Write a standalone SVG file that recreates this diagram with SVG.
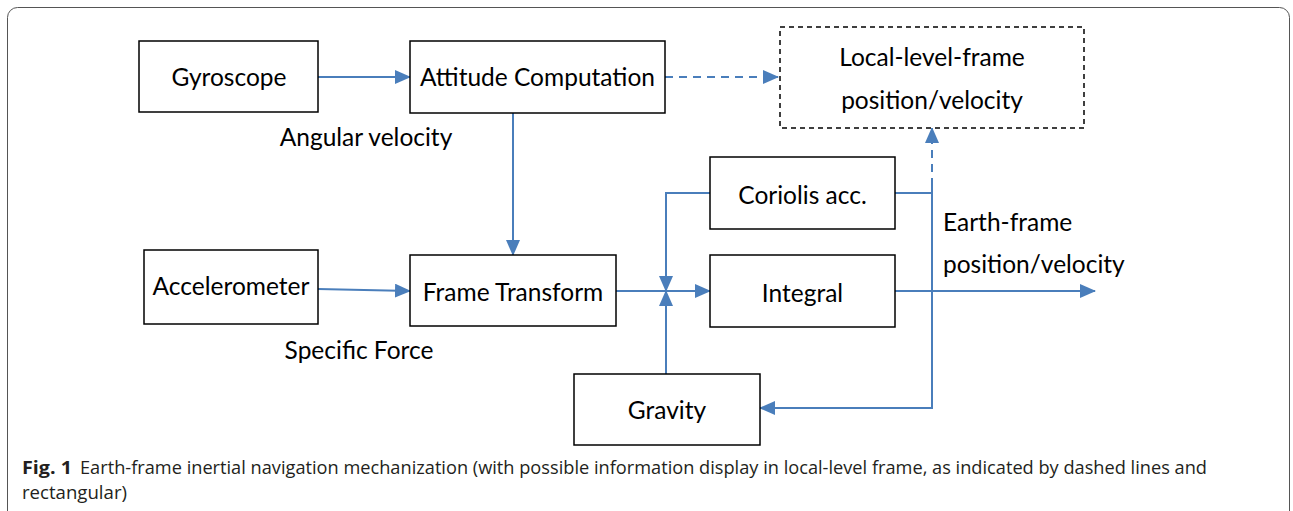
<svg xmlns="http://www.w3.org/2000/svg" width="1293" height="511" viewBox="0 0 1293 511">
<style>
.box{fill:#fff;stroke:#000;stroke-width:1.5}
.dbox{fill:#fff;stroke:#000;stroke-width:1.5;stroke-dasharray:5 4}
.t{font-family:Lato,"Open Sans",sans-serif;font-size:24.5px;fill:#000}
.c{stroke:#4a7ebb;stroke-width:2;fill:none}
.d{stroke-dasharray:8 6}
.cap{font-family:"Open Sans","Noto Sans",sans-serif;font-size:18px;fill:#231f20}
</style>
<defs>
<marker id="ah" markerUnits="userSpaceOnUse" markerWidth="16" markerHeight="14" refX="15" refY="7" orient="auto">
<path d="M0,0 L16,7 L0,14 Z" fill="#4a7ebb"/>
</marker>
</defs>
<rect x="7.5" y="7.5" width="1282" height="520" rx="10" fill="none" stroke="#555" stroke-width="1"/>
<g id="connectors">
<path class="c" d="M318,77 H410" marker-end="url(#ah)"/>
<path class="c d" d="M665,77 H778" marker-end="url(#ah)"/>
<path class="c" d="M513,113 V255" marker-end="url(#ah)"/>
<path class="c" d="M318,289 L410,291" marker-end="url(#ah)"/>
<path class="c" d="M616,291 H710" marker-end="url(#ah)"/>
<path class="c" d="M710,193 H666 V291" marker-end="url(#ah)"/>
<path class="c" d="M666,374 V291" marker-end="url(#ah)"/>
<path class="c" d="M895,193 H932"/>
<path class="c d" d="M932,186 V128" marker-end="url(#ah)"/>
<path class="c" d="M932,186 V408 H760" marker-end="url(#ah)"/>
<path class="c" d="M895,291 H1095" marker-end="url(#ah)"/>
</g>
<g id="gyroscope"><rect class="box" x="139" y="41" width="179" height="71"/><text class="t" x="229" y="86" text-anchor="middle">Gyroscope</text></g>
<g id="attitude"><rect class="box" x="410" y="41" width="255" height="72"/><text class="t" x="537.5" y="86" text-anchor="middle">Attitude Computation</text></g>
<g id="local"><rect class="dbox" x="780" y="27" width="304" height="101"/><text class="t" x="932" y="66" text-anchor="middle">Local-level-frame</text><text class="t" x="932" y="109" text-anchor="middle">position/velocity</text></g>
<g id="accelerometer"><rect class="box" x="144" y="250" width="174" height="74"/><text class="t" x="231" y="295" text-anchor="middle">Accelerometer</text></g>
<g id="frametransform"><rect class="box" x="410" y="255" width="206" height="71"/><text class="t" x="513" y="301" text-anchor="middle">Frame Transform</text></g>
<g id="coriolis"><rect class="box" x="710" y="157" width="185" height="72"/><text class="t" x="802.5" y="204" text-anchor="middle">Coriolis acc.</text></g>
<g id="integral"><rect class="box" x="710" y="255" width="185" height="72"/><text class="t" x="802.5" y="302" text-anchor="middle">Integral</text></g>
<g id="gravity"><rect class="box" x="574" y="374" width="186" height="71"/><text class="t" x="667" y="419" text-anchor="middle">Gravity</text></g>
<g id="labels">
<text class="t" x="366" y="146" text-anchor="middle">Angular velocity</text>
<text class="t" x="359" y="359" text-anchor="middle">Specific Force</text>
<text class="t" x="943" y="231">Earth-frame</text>
<text class="t" x="943" y="273">position/velocity</text>
</g>
<g id="caption">
<text class="cap" x="22" y="474" font-weight="bold" textLength="50" lengthAdjust="spacingAndGlyphs">Fig. 1</text>
<text class="cap" x="80" y="474" textLength="1127" lengthAdjust="spacingAndGlyphs">Earth-frame inertial navigation mechanization (with possible information display in local-level frame, as indicated by dashed lines and</text>
<text class="cap" x="22" y="499" textLength="105" lengthAdjust="spacingAndGlyphs">rectangular)</text>
</g>
</svg>
